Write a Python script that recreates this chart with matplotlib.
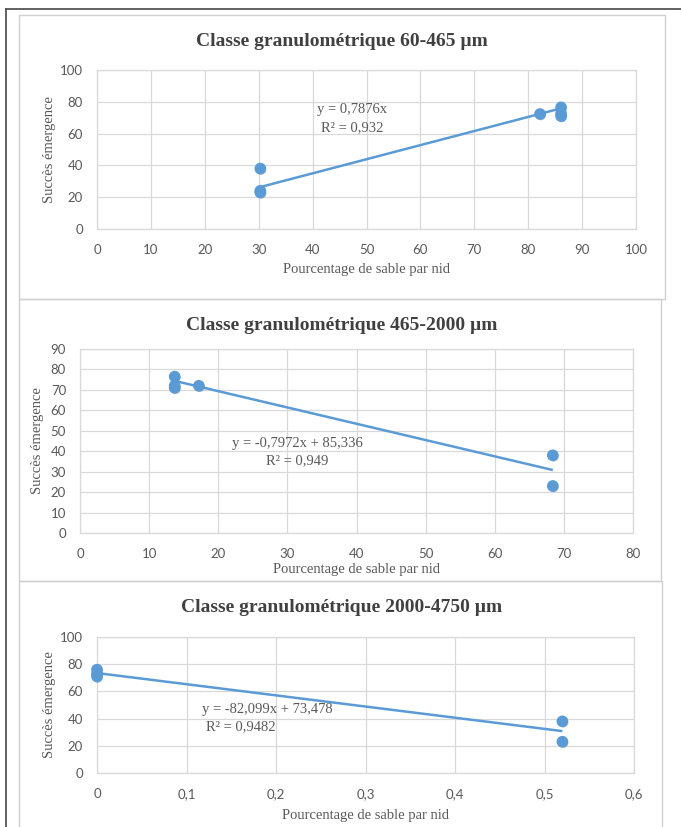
import matplotlib
matplotlib.use("Agg")
import matplotlib.pyplot as plt
import matplotlib.patheffects as pe
from matplotlib.patches import Rectangle
from matplotlib.lines import Line2D

W, H = 681, 827

# ---------------- data ----------------
titles = ["Classe granulométrique 60-465 µm",
          "Classe granulométrique 465-2000 µm",
          "Classe granulométrique 2000-4750 µm"]

x1 = [30.3, 30.3, 30.3, 82.2, 86.1, 86.1, 86.1]
y1 = [38.0, 23.0, 24.0, 72.3, 76.5, 72.5, 71.0]
trend1_x = [30.3, 86.1]
trend1_y = [26.4, 75.9]
eq1 = ["y = 0,7876x", "R² = 0,932"]
xticks1 = [0, 10, 20, 30, 40, 50, 60, 70, 80, 90, 100]
xticklabels1 = ["0", "10", "20", "30", "40", "50", "60", "70", "80", "90", "100"]
yticks1 = [0, 20, 40, 60, 80, 100]

x2 = [13.7, 13.7, 13.7, 17.2, 68.4, 68.4]
y2 = [76.5, 72.0, 71.0, 72.0, 38.0, 23.0]
trend2_x = [13.7, 68.4]
trend2_y = [74.4, 30.8]
eq2 = ["y = -0,7972x + 85,336", "R² = 0,949"]
xticks2 = [0, 10, 20, 30, 40, 50, 60, 70, 80]
xticklabels2 = ["0", "10", "20", "30", "40", "50", "60", "70", "80"]
yticks2 = [0, 10, 20, 30, 40, 50, 60, 70, 80, 90]

x3 = [0.0, 0.0, 0.0, 0.52, 0.52]
y3 = [76.0, 73.0, 71.0, 38.0, 23.0]
trend3_x = [0.0, 0.52]
trend3_y = [73.5, 30.8]
eq3 = ["y = -82,099x + 73,478", "R² = 0,9482"]
xticks3 = [0, 0.1, 0.2, 0.3, 0.4, 0.5, 0.6]
xticklabels3 = ["0", "0,1", "0,2", "0,3", "0,4", "0,5", "0,6"]
yticks3 = [0, 20, 40, 60, 80, 100]

xlabel = "Pourcentage de sable par nid"
ylabel = "Succès émergence"

# ---------------- style ----------------
BLUE = "#5B9BD5"
GRID = "#D9D9D9"
TXT = "#595959"
SERIF = ["Liberation Serif", "DejaVu Serif"]
SANS = ["Lato", "DejaVu Sans"]

fig = plt.figure(figsize=(W / 100, H / 100), dpi=100)
fig.patch.set_facecolor("white")


def fx(x):
    return x / W


def fy(y):
    return 1 - y / H


# outer dark frame lines
fig.add_artist(Line2D([fx(6), fx(681)], [fy(9), fy(9)], color="#555555", lw=1.3,
                      transform=fig.transFigure))
fig.add_artist(Line2D([fx(6), fx(6)], [fy(9), fy(827)], color="#555555", lw=1.3,
                      transform=fig.transFigure))

# panel borders (left, top, right, bottom)
panels = [(19, 15, 665, 299), (19, 299, 661, 581), (19, 581, 662, 830)]
for (l, t, r, b) in panels:
    fig.add_artist(Rectangle((fx(l), fy(b)), (r - l) / W, (b - t) / H,
                             transform=fig.transFigure, fill=False,
                             edgecolor="#D0D0D0", lw=1.0))

specs = [
    dict(rect=(97, 70, 636, 229), x=x1, y=y1, tx=trend1_x, ty=trend1_y, eq=eq1,
         xt=xticks1, xtl=xticklabels1, yt=yticks1, xlim=(0, 100), ylim=(0, 100),
         title=titles[0], title_y=41, xlab_y=270, ylab_x=49,
         eq_pos=[(352, 110), (352, 128)]),
    dict(rect=(80, 349, 633, 533), x=x2, y=y2, tx=trend2_x, ty=trend2_y, eq=eq2,
         xt=xticks2, xtl=xticklabels2, yt=yticks2, xlim=(0, 80), ylim=(0, 90),
         title=titles[1], title_y=326, xlab_y=569, ylab_x=38,
         eq_pos=[(297, 444), (297, 461)]),
    dict(rect=(97, 637, 634, 773), x=x3, y=y3, tx=trend3_x, ty=trend3_y, eq=eq3,
         xt=xticks3, xtl=xticklabels3, yt=yticks3, xlim=(0, 0.6), ylim=(0, 100),
         title=titles[2], title_y=607, xlab_y=816, ylab_x=49,
         eq_pos=[(267, 710), (241, 727)]),
]

for s in specs:
    l, t, r, b = s["rect"]
    ax = fig.add_axes([fx(l), fy(b), (r - l) / W, (b - t) / H])
    ax.set_xlim(*s["xlim"])
    ax.set_ylim(*s["ylim"])
    ax.set_xticks(s["xt"])
    ax.set_xticklabels(s["xtl"])
    ax.set_yticks(s["yt"])
    ax.set_yticklabels([str(v) for v in s["yt"]])
    ax.grid(True, color=GRID, lw=0.9)
    ax.set_axisbelow(True)
    for sp in ax.spines.values():
        sp.set_color(GRID)
        sp.set_linewidth(0.9)
    ax.tick_params(length=0, colors=TXT, labelsize=9.5)
    ax.tick_params(axis="x", pad=11)
    ax.tick_params(axis="y", pad=10)
    for lab in ax.get_xticklabels() + ax.get_yticklabels():
        lab.set_family(SANS)
    ax.plot(s["tx"], s["ty"], color=BLUE, lw=1.8, solid_capstyle="butt", zorder=3)
    ax.plot(s["x"], s["y"], "o", color=BLUE, ms=7.4, mec=BLUE, zorder=4, clip_on=False,
            path_effects=[pe.SimplePatchShadow(offset=(0.6, -0.8), shadow_rgbFace="#2E5E8C",
                                               alpha=0.35), pe.Normal()])
    fig.text(fx(342), fy(s["title_y"]), s["title"], ha="center",
             va="center", family=SERIF, weight="bold", fontsize=14, color="#404040")
    fig.text(fx((l + r) / 2), fy(s["xlab_y"]), xlabel, ha="center", va="center",
             family=SERIF, fontsize=10.5, color=TXT)
    fig.text(fx(s["ylab_x"]), fy((t + b) / 2), ylabel, ha="center", va="center",
             rotation=90, family=SERIF, fontsize=10.5, color=TXT)
    for (ex, ey), txt in zip(s["eq_pos"], s["eq"]):
        fig.text(fx(ex), fy(ey), txt, ha="center", va="center", family=SERIF,
                 fontsize=10.5, color=TXT)

fig.savefig("out.png", dpi=100, facecolor="white")
